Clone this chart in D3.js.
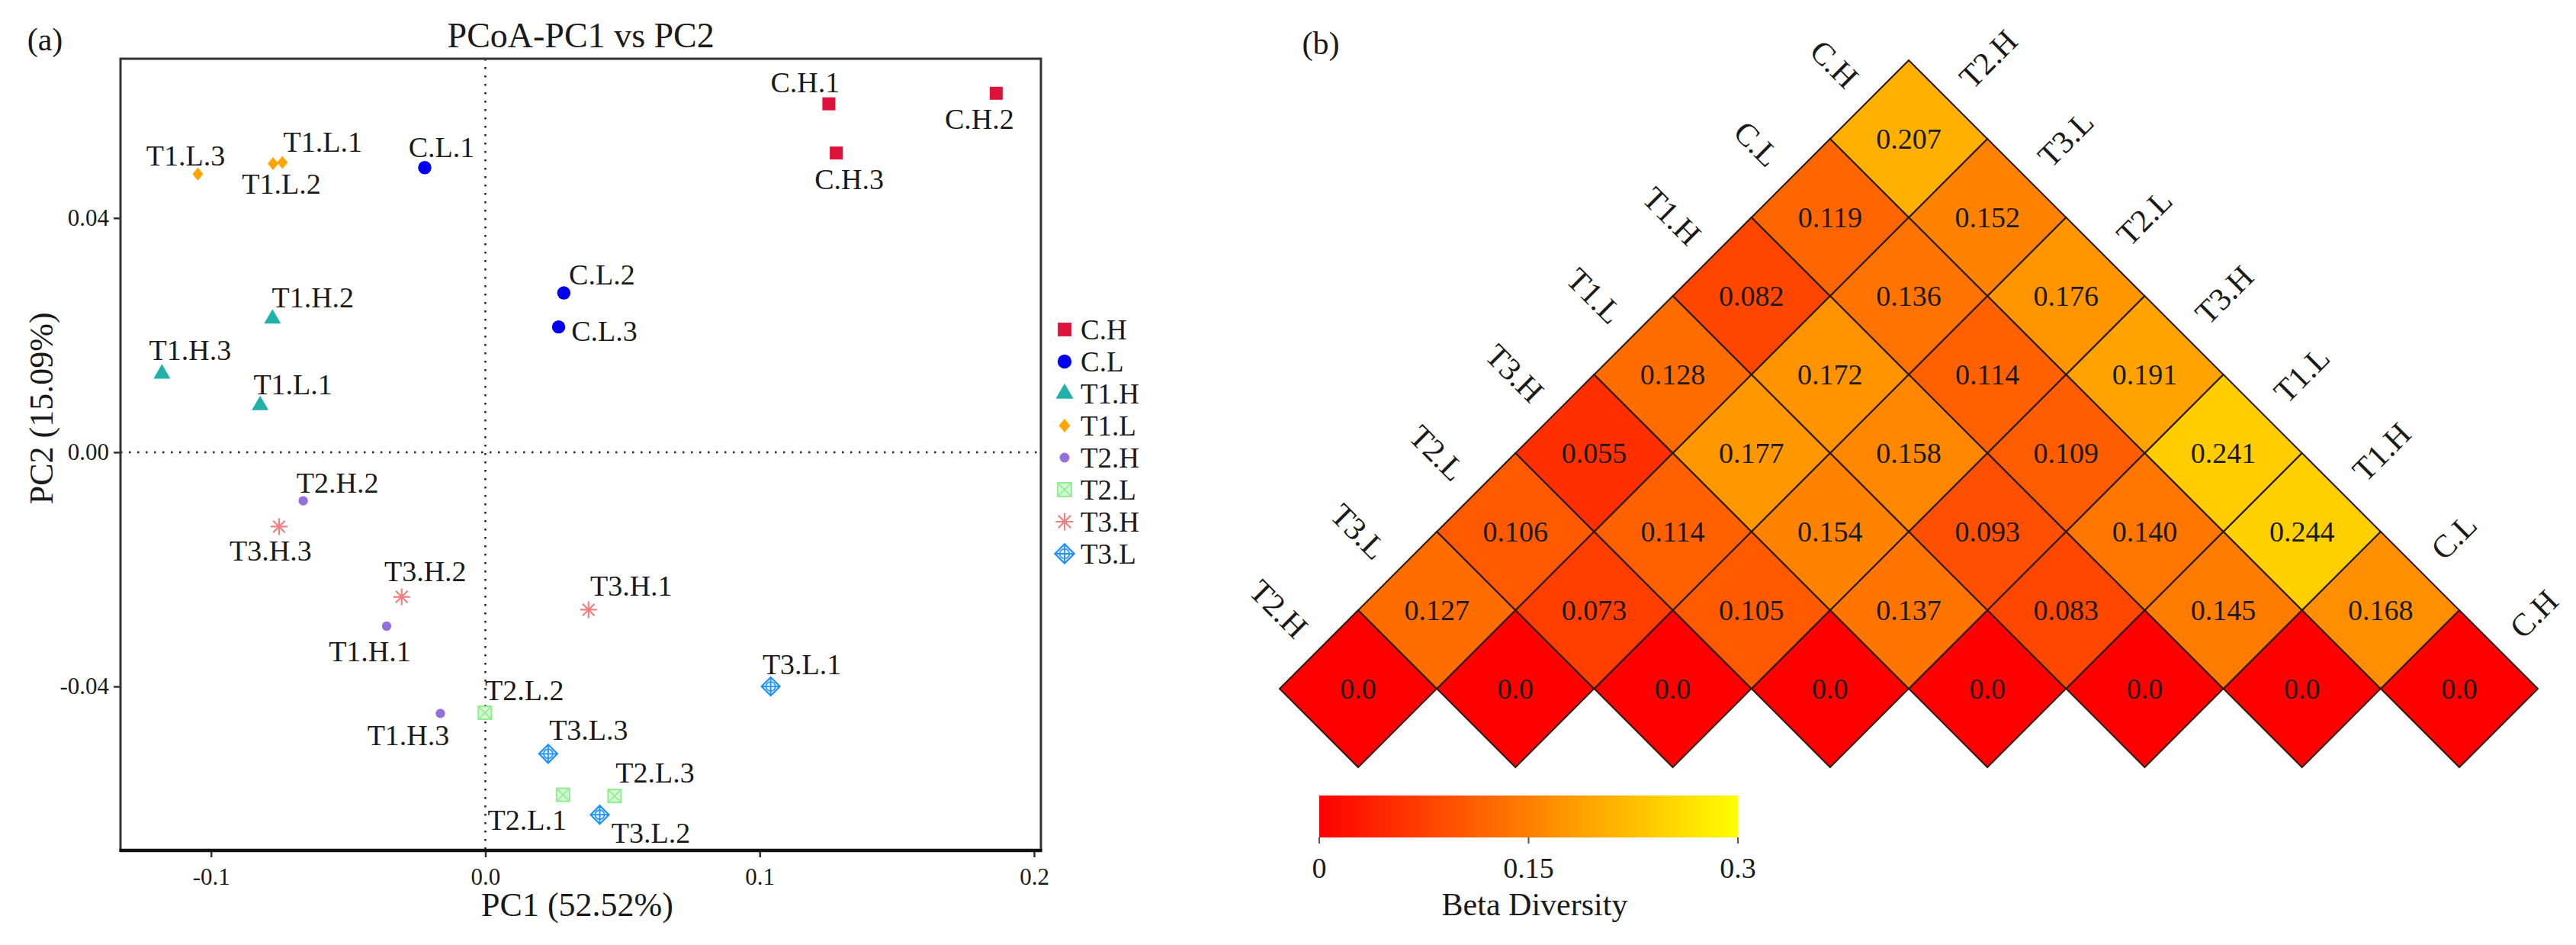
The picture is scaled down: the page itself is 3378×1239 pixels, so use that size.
<!DOCTYPE html>
<html>
<head>
<meta charset="utf-8">
<script src="https://cdn.jsdelivr.net/npm/d3@7"></script>
<style>
  body { margin: 0; background: #fff; }
  text { font-family: "Liberation Serif", "DejaVu Serif", serif; fill: #1a1a1a; }
</style>
</head>
<body>
<svg id="fig" width="3378" height="1239"></svg>
<script>
// ---- panel (a): PCoA scores ----
const sampleLabels = ["C.H.1","C.H.2","C.H.3","C.L.1","C.L.2","C.L.3",
  "T1.H.2","T1.H.3","T1.L.1","T1.L.1","T1.L.2","T1.L.3",
  "T2.H.2","T1.H.1","T1.H.3","T2.L.2","T2.L.1","T2.L.3",
  "T3.H.3","T3.H.2","T3.H.1","T3.L.1","T3.L.3","T3.L.2"];
const sampleGroups = ["C.H","C.H","C.H","C.L","C.L","C.L",
  "T1.H","T1.H","T1.H","T1.L","T1.L","T1.L",
  "T2.H","T2.H","T2.H","T2.L","T2.L","T2.L",
  "T3.H","T3.H","T3.H","T3.L","T3.L","T3.L"];
const pc1 = [0.1252, 0.1862, 0.1279, -0.0221, 0.0286, 0.0267,
  -0.0776, -0.1179, -0.0821, -0.0740, -0.0774, -0.1048,
  -0.0664, -0.0360, -0.0164, -0.0002, 0.0283, 0.0471,
  -0.0752, -0.0305, 0.0376, 0.1040, 0.0229, 0.0417];
const pc2 = [0.0595, 0.0613, 0.0511, 0.0486, 0.0272, 0.0214,
  0.0228, 0.0134, 0.0080, 0.0495, 0.0493, 0.0475,
  -0.0083, -0.0297, -0.0446, -0.0445, -0.0585, -0.0587,
  -0.0127, -0.0247, -0.0269, -0.0400, -0.0515, -0.0619];
const groupNames = ["C.H","C.L","T1.H","T1.L","T2.H","T2.L","T3.H","T3.L"];
const pc1Ticks = [-0.1, 0.0, 0.1, 0.2];
const pc2Ticks = [-0.04, 0.0, 0.04];

// ---- panel (b): beta diversity, diagonal order and values by step off the diagonal ----
const betaOrder = ["T2.H","T3.L","T2.L","T3.H","T1.L","T1.H","C.L","C.H"];
const betaByStep = [
  [0, 0, 0, 0, 0, 0, 0, 0],
  [0.127, 0.073, 0.105, 0.137, 0.083, 0.145, 0.168],
  [0.106, 0.114, 0.154, 0.093, 0.140, 0.244],
  [0.055, 0.177, 0.158, 0.109, 0.241],
  [0.128, 0.172, 0.114, 0.191],
  [0.082, 0.136, 0.176],
  [0.119, 0.152],
  [0.207]
];
const colorStops = [0, 0.15, 0.3];
const colorbarTicks = [0, 0.15, 0.3];

// label nudges (px) for the scatter, same order as sampleLabels
const labelDx = [-31,-22,17,22,50,60, 53,37,43,53,11,-16, 45,-22,-42,52,-47,53, -11,31,56,41,53,67];
const labelDy = [-28,34,34,-27,-24,5, -28,-31,-28,-27,27,-24, -24,33,29,-30,33,-31, 32,-34,-31,-29,-31,24];

const svg = d3.select("#fig");

// marker styles
const groupStyle = {
  "C.H":  { color: "#dc143c" },
  "C.L":  { color: "#0000ee" },
  "T1.H": { color: "#20b2aa" },
  "T1.L": { color: "#ffa500" },
  "T2.H": { color: "#9370db" },
  "T2.L": { color: "#90ee90" },
  "T3.H": { color: "#f08080" },
  "T3.L": { color: "#1e90ff" }
};

function drawMarker(g, group, k) {
  const c = groupStyle[group].color;
  k = k || 1;
  if (group === "C.H") {
    g.append("path").attr("d", d3.symbol(d3.symbolSquare, 290 * k * k)()).attr("fill", c);
  } else if (group === "C.L") {
    g.append("path").attr("d", d3.symbol(d3.symbolCircle, 240 * k * k)()).attr("fill", c);
  } else if (group === "T1.H") {
    g.append("path").attr("d", d3.symbol(d3.symbolTriangle, 210 * k * k)()).attr("fill", c);
  } else if (group === "T1.L") {
    const w = 7 * k, h = 8.5 * k;
    g.append("path").attr("d", `M0,${-h}L${w},0L0,${h}L${-w},0Z`).attr("fill", c);
  } else if (group === "T2.H") {
    g.append("path").attr("d", d3.symbol(d3.symbolCircle, 120 * k * k)()).attr("fill", c);
  } else if (group === "T2.L") {
    const s = 8.5 * k;
    g.append("rect").attr("x", -s).attr("y", -s).attr("width", 2 * s).attr("height", 2 * s)
      .attr("fill", "#d6f7d6").attr("stroke", c).attr("stroke-width", 2);
    g.append("path").attr("d", `M${-s},${-s}L${s},${s}M${s},${-s}L${-s},${s}`)
      .attr("stroke", c).attr("stroke-width", 1.6);
  } else if (group === "T3.H") {
    const r = 11 * k, q = r * 0.7071;
    g.append("path")
      .attr("d", `M0,${-r}L0,${r}M${-r},0L${r},0M${-q},${-q}L${q},${q}M${q},${-q}L${-q},${q}`)
      .attr("stroke", c).attr("stroke-width", 2.2).attr("fill", "none");
  } else if (group === "T3.L") {
    const r = 12 * k;
    g.append("path").attr("d", `M0,${-r}L${r},0L0,${r}L${-r},0Z`)
      .attr("fill", "#eef6ff").attr("stroke", c).attr("stroke-width", 2.2);
    g.append("path").attr("d", `M0,${-r}L0,${r}M${-r},0L${r},0`)
      .attr("stroke", c).attr("stroke-width", 1.8);
    g.append("circle").attr("r", r * 0.5).attr("fill", "none").attr("stroke", c).attr("stroke-width", 1.6);
  }
}

// ================= panel (a) =================
const x = d3.scaleLinear().domain([-0.133, 0.2025]).range([158, 1365]);
const y = d3.scaleLinear().domain([-0.068, 0.0672]).range([1115, 77]);

const pa = svg.append("g");

pa.append("text").attr("x", 59).attr("y", 52).attr("font-size", 42)
  .attr("text-anchor", "middle").attr("dominant-baseline", "central").text("(a)");
pa.append("text").attr("x", x(0.0348)).attr("y", 46).attr("font-size", 46)
  .attr("text-anchor", "middle").attr("dominant-baseline", "central").text("PCoA-PC1 vs PC2");

// zero reference lines
pa.append("line").attr("x1", x(0)).attr("x2", x(0)).attr("y1", y.range()[1]).attr("y2", y.range()[0])
  .attr("stroke", "#222").attr("stroke-width", 2.5).attr("stroke-dasharray", "2.5,8.5");
pa.append("line").attr("x1", x.range()[0]).attr("x2", x.range()[1]).attr("y1", y(0)).attr("y2", y(0))
  .attr("stroke", "#222").attr("stroke-width", 2.5).attr("stroke-dasharray", "2.5,8.5");

// axes
const xAxis = pa.append("g").attr("transform", `translate(0,${y.range()[0]})`)
  .call(d3.axisBottom(x).tickValues(pc1Ticks).tickFormat(d => d.toFixed(1)).tickSize(9).tickPadding(8));
const yAxis = pa.append("g").attr("transform", `translate(${x.range()[0]},0)`)
  .call(d3.axisLeft(y).tickValues(pc2Ticks).tickFormat(d => d.toFixed(2)).tickSize(9).tickPadding(6));
[xAxis, yAxis].forEach(a => {
  a.select(".domain").remove();
  a.selectAll(".tick line").attr("stroke", "#333").attr("stroke-width", 2.5);
  a.selectAll(".tick text").attr("font-size", 31).attr("fill", "#1a1a1a")
    .attr("font-family", "'Liberation Serif', serif");
});
xAxis.selectAll(".tick text").attr("dy", "0.9em");

// frame
pa.append("rect").attr("x", x.range()[0]).attr("y", y.range()[1])
  .attr("width", x.range()[1] - x.range()[0]).attr("height", y.range()[0] - y.range()[1])
  .attr("fill", "none").attr("stroke", "#333").attr("stroke-width", 3);
pa.append("line").attr("x1", x.range()[0] - 1.5).attr("x2", x.range()[1] + 1.5)
  .attr("y1", y.range()[0]).attr("y2", y.range()[0]).attr("stroke", "#111").attr("stroke-width", 4.5);

pa.append("text").attr("x", x(0.0335)).attr("y", 1186).attr("font-size", 44)
  .attr("text-anchor", "middle").attr("dominant-baseline", "central").text("PC1 (52.52%)");
pa.append("text").attr("transform", `translate(54,${y(0.0075)}) rotate(-90)`).attr("font-size", 44)
  .attr("text-anchor", "middle").attr("dominant-baseline", "central").text("PC2 (15.09%)");

// points and labels
const pts = d3.range(sampleLabels.length);
pts.forEach(i => {
  const g = pa.append("g").attr("transform", `translate(${x(pc1[i])},${y(pc2[i])})`);
  drawMarker(g, sampleGroups[i], 1);
});
pa.selectAll("text.lab").data(pts).join("text").attr("class", "lab")
  .attr("x", i => x(pc1[i]) + labelDx[i]).attr("y", i => y(pc2[i]) + labelDy[i])
  .attr("font-size", 38).attr("text-anchor", "middle").attr("dominant-baseline", "central")
  .text(i => sampleLabels[i]);

// legend
const leg = pa.append("g").attr("transform", "translate(1396,432)");
groupNames.forEach((gname, i) => {
  const row = leg.append("g").attr("transform", `translate(0,${i * 42})`);
  drawMarker(row, gname, 1.05);
  row.append("text").attr("x", 21).attr("y", 0).attr("font-size", 37)
    .attr("dominant-baseline", "central").text(gname);
});

// ================= panel (b) =================
const pb = svg.append("g");
pb.append("text").attr("x", 1732).attr("y", 57).attr("font-size", 42)
  .attr("text-anchor", "middle").attr("dominant-baseline", "central").text("(b)");

const n = betaOrder.length;
const bx = d3.scalePoint().domain(betaOrder).range([1781, 3225]);
const by = d3.scaleLinear().domain([0, n - 1]).range([903, 182]);
const h = (by(0) - by(1));          // half diagonal of one cell
const color = d3.scaleLinear().domain(colorStops).range(["#ff0000", "#ff8000", "#ffff00"]);

const cells = [];
betaByStep.forEach((row, d) => {
  row.forEach((v, i) => cells.push({ i: i, j: i + d, d: d, v: v }));
});
const cellG = pb.selectAll("g.cell").data(cells).join("g").attr("class", "cell")
  .attr("transform", c => `translate(${(bx(betaOrder[c.i]) + bx(betaOrder[c.j])) / 2},${by(c.d)})`);
cellG.append("path").attr("d", `M0,${-h}L${h},0L0,${h}L${-h},0Z`)
  .attr("fill", c => color(c.v)).attr("stroke", "#2a1a10").attr("stroke-width", 2);
cellG.append("text").attr("font-size", 38).attr("text-anchor", "middle").attr("dominant-baseline", "central")
  .attr("fill", "#2a1a10").text(c => c.d === 0 ? "0.0" : c.v.toFixed(3));

// side labels
const gap = 22;
betaOrder.forEach((name, j) => {
  const cx = (bx(betaOrder[0]) + bx(name)) / 2, cy = by(j);
  const ax = cx - h / 2 - gap, ay = cy - h / 2 - gap;
  pb.append("text").attr("transform", `translate(${ax},${ay}) rotate(45)`)
    .attr("font-size", 42).attr("text-anchor", "end").attr("dominant-baseline", "central").text(name);
});
betaOrder.forEach((name, i) => {
  const cx = (bx(name) + bx(betaOrder[n - 1])) / 2, cy = by(n - 1 - i);
  const ax = cx + h / 2 + gap, ay = cy - h / 2 - gap;
  pb.append("text").attr("transform", `translate(${ax},${ay}) rotate(-45)`)
    .attr("font-size", 42).attr("text-anchor", "start").attr("dominant-baseline", "central").text(name);
});

// colour bar
const cbx = d3.scaleLinear().domain([0, 0.3]).range([1730, 2279]);
const grad = svg.append("defs").append("linearGradient").attr("id", "cb");
d3.range(0, 1.0001, 0.1).forEach(t => {
  grad.append("stop").attr("offset", t).attr("stop-color", color(t * 0.3));
});
pb.append("rect").attr("x", cbx(0)).attr("y", 1043).attr("width", cbx(0.3) - cbx(0)).attr("height", 55)
  .attr("fill", "url(#cb)");
pb.selectAll("line.cbt").data(colorbarTicks).join("line").attr("class", "cbt")
  .attr("x1", d => cbx(d)).attr("x2", d => cbx(d)).attr("y1", 1098).attr("y2", 1106)
  .attr("stroke", "#555").attr("stroke-width", 2);
pb.selectAll("text.cbl").data(colorbarTicks).join("text").attr("class", "cbl")
  .attr("x", d => cbx(d)).attr("y", 1138).attr("font-size", 38)
  .attr("text-anchor", "middle").attr("dominant-baseline", "central").text(d => String(d));
pb.append("text").attr("x", cbx(0.15) + 8).attr("y", 1186).attr("font-size", 42)
  .attr("text-anchor", "middle").attr("dominant-baseline", "central").text("Beta Diversity");
</script>
</body>
</html>
